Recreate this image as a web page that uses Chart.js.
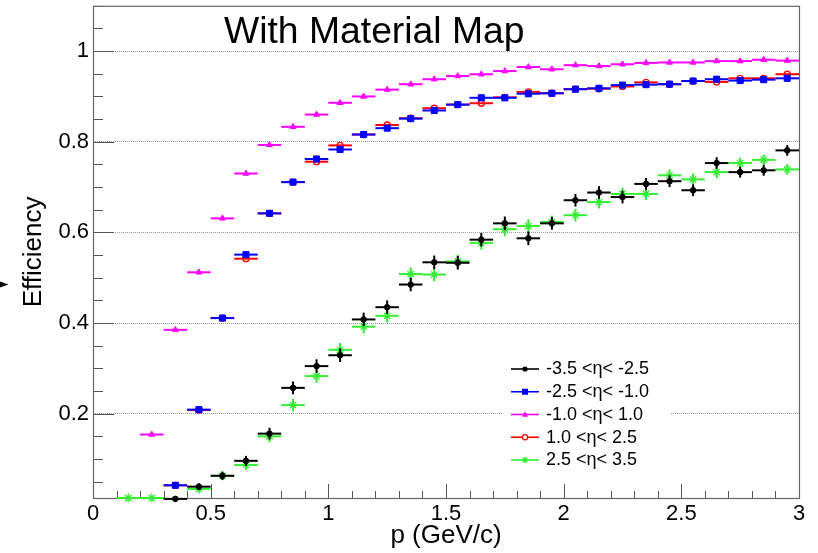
<!DOCTYPE html>
<html><head><meta charset="utf-8">
<script src="https://cdn.jsdelivr.net/npm/chart.js@4.4.1/dist/chart.umd.min.js"></script>
<style>html,body{margin:0;padding:0;background:#fff;}#wrap{width:818px;height:553px;position:relative;}</style>
</head><body><div id="wrap"><canvas id="c" width="818" height="553"></canvas></div>
<script>
// ---- data ----
const pBins = [0.15,0.25,0.35,0.45,0.55,0.65,0.75,0.85,0.95,1.05,1.15,1.25,1.35,1.45,1.55,1.65,1.75,1.85,1.95,2.05,2.15,2.25,2.35,2.45,2.55,2.65,2.75,2.85,2.95];
const seriesLabels = ['-3.5 <\u03b7< -2.5','-2.5 <\u03b7< -1.0','-1.0 <\u03b7< 1.0','1.0 <\u03b7< 2.5','2.5 <\u03b7< 3.5'];
const effEtaM35toM25 = [null,null,0.012,0.039,0.063,0.096,0.156,0.257,0.305,0.329,0.408,0.435,0.485,0.534,0.533,0.584,0.620,0.587,0.620,0.671,0.688,0.678,0.707,0.713,0.693,0.753,0.733,0.737,0.781];
const errEtaM35toM25 = [null,null,0.004,0.007,0.009,0.011,0.013,0.014,0.015,0.015,0.015,0.015,0.015,0.015,0.015,0.015,0.015,0.015,0.014,0.014,0.014,0.014,0.013,0.013,0.013,0.013,0.012,0.012,0.012];
const effEtaM25toM10 = [null,null,0.042,0.209,0.411,0.551,0.642,0.711,0.762,0.783,0.816,0.830,0.851,0.869,0.882,0.897,0.897,0.906,0.907,0.916,0.918,0.925,0.926,0.927,0.934,0.938,0.935,0.937,0.940];
const effEtaM10to10 = [null,0.154,0.385,0.512,0.631,0.730,0.793,0.833,0.860,0.886,0.900,0.915,0.927,0.938,0.945,0.949,0.956,0.965,0.960,0.969,0.967,0.971,0.974,0.975,0.975,0.978,0.978,0.981,0.979];
const effEta10to25 = [null,null,0.042,0.208,0.411,0.542,0.642,0.711,0.756,0.792,0.816,0.837,0.852,0.874,0.882,0.885,0.898,0.910,0.907,0.916,0.917,0.922,0.931,0.927,0.934,0.932,0.940,0.940,0.949];
const effEta25to35 = [0.014,0.014,null,0.034,0.063,0.087,0.150,0.219,0.283,0.341,0.392,0.416,0.508,0.507,0.536,0.577,0.607,0.614,0.623,0.638,0.667,0.685,0.685,0.726,0.717,0.733,0.753,0.760,0.739];
const errEta25to35 = [0.003,0.003,null,0.007,0.009,0.011,0.013,0.014,0.015,0.015,0.015,0.015,0.015,0.015,0.015,0.015,0.015,0.015,0.014,0.014,0.014,0.014,0.013,0.013,0.013,0.013,0.012,0.012,0.012];
const xTickValues = [0,0.5,1,1.5,2,2.5,3];
const yTickValues = [0.2,0.4,0.6,0.8,1.0];
const chartTitle = 'With Material Map';
const xTitle = 'p (GeV/c)';
const yTitle = 'Efficiency';
const binHalfWidth = 0.05;

const FONT = '"Liberation Sans", Arial, Helvetica, sans-serif';

function makeData(vals, errs){
  const out = [];
  pBins.forEach((x,i)=>{ if (vals[i] != null) out.push({x:x, y:vals[i], e: errs ? (errs[i]||0) : 0}); });
  return out;
}

const styles = [
  {color:'#000000', point:'circle', r:2.8, fill:'#000000', bw:1},
  {color:'#0000ff', point:'rect', r:4.3, fill:'#0000ff', bw:1},
  {color:'#ff00ff', point:'triangle', r:3.4, fill:'#ff00ff', bw:1},
  {color:'#ff0000', point:'circle', r:3.0, fill:'rgba(0,0,0,0)', bw:1.3},
  {color:'#33ee33', point:'star', r:4.5, fill:'#33ee33', bw:1.3}
];
const seriesVals = [effEtaM35toM25, effEtaM25toM10, effEtaM10to10, effEta10to25, effEta25to35];
const seriesErrs = [errEtaM35toM25, null, null, null, errEta25to35];

const datasets = seriesVals.map((v,k)=>({
  label: seriesLabels[k],
  data: makeData(v, seriesErrs[k]),
  showLine:false,
  pointStyle: styles[k].point,
  pointRadius: styles[k].r,
  pointHoverRadius: styles[k].r,
  pointBackgroundColor: styles[k].fill,
  pointBorderColor: styles[k].color,
  pointBorderWidth: styles[k].bw,
  borderColor: styles[k].color,
  backgroundColor: styles[k].fill,
  clip: false
}));

const errorBarPlugin = {
  id:'errbars',
  beforeDatasetDraw(chart, args){
    const ds = chart.data.datasets[args.index];
    const k = args.index;
    const xs = chart.scales.x, ys = chart.scales.y;
    const ctx = chart.ctx;
    ctx.save();
    ctx.strokeStyle = styles[k].color;
    ctx.lineWidth = 2;
    ds.data.forEach(p=>{
      const x1 = xs.getPixelForValue(p.x - binHalfWidth), x2 = xs.getPixelForValue(p.x + binHalfWidth);
      const y = ys.getPixelForValue(p.y);
      ctx.beginPath(); ctx.moveTo(x1,y); ctx.lineTo(x2,y); ctx.stroke();
      if (p.e){
        const xc = xs.getPixelForValue(p.x);
        ctx.beginPath(); ctx.moveTo(xc, ys.getPixelForValue(p.y - p.e)); ctx.lineTo(xc, ys.getPixelForValue(p.y + p.e)); ctx.stroke();
      }
    });
    ctx.restore();
  }
};

const framePlugin = {
  id:'frame',
  beforeDatasetsDraw(chart){
    const {ctx, chartArea:a} = chart;
    const xs = chart.scales.x, ys = chart.scales.y;
    ctx.save();
    ctx.strokeStyle = '#555';
    ctx.lineWidth = 1;
    for (let i=0;i<=30;i++){
      const px = Math.round(xs.getPixelForValue(i/10))+0.5;
      const len = (i%5===0) ? 14 : 7;
      ctx.beginPath(); ctx.moveTo(px, a.bottom); ctx.lineTo(px, a.bottom-len); ctx.stroke();
    }
    for (let j=1;j<=22;j++){
      const v = j*0.05;
      const py = Math.round(ys.getPixelForValue(v))+0.5;
      const len = (j%4===0) ? 21 : 10;
      ctx.beginPath(); ctx.moveTo(a.left, py); ctx.lineTo(a.left+len, py); ctx.stroke();
    }
    ctx.strokeStyle = '#666';
    ctx.lineWidth = 1.2;
    ctx.strokeRect(a.left+0.5, a.top+0.5, a.right-a.left, a.bottom-a.top);
    ctx.restore();
  },
  afterDraw(chart){
    const {ctx} = chart;
    ctx.save();
    ctx.fillStyle = '#000';
    ctx.font = '37.3px ' + FONT;
    ctx.textBaseline = 'alphabetic';
    ctx.textAlign = 'left';
    ctx.fillText(chartTitle, 224, 43);
    ctx.beginPath(); ctx.moveTo(0,281.5); ctx.lineTo(8.5,284.5); ctx.lineTo(0,287.5); ctx.closePath(); ctx.fill();
    ctx.fillStyle = '#fff';
    ctx.fillRect(503, 356, 167, 116);
    const rowY0 = 369, rowStep = 22.75;
    seriesLabels.forEach((lab,k)=>{
      const y = rowY0 + k*rowStep;
      const st = styles[k];
      ctx.strokeStyle = st.color; ctx.lineWidth = 1.6;
      ctx.beginPath(); ctx.moveTo(511,y); ctx.lineTo(539,y); ctx.stroke();
      drawMarker(ctx, st, 525, y);
      ctx.fillStyle = '#000';
      ctx.font = '18px ' + FONT;
      ctx.textBaseline = 'middle';
      ctx.textAlign = 'left';
      ctx.fillText(lab, 546, y+0.5);
    });
    ctx.restore();
  }
};

function drawMarker(ctx, st, x, y){
  ctx.save();
  ctx.fillStyle = st.fill; ctx.strokeStyle = st.color; ctx.lineWidth = 1.2;
  if (st.point === 'circle'){
    ctx.beginPath(); ctx.arc(x,y,2.6,0,Math.PI*2);
    if (st.fill.indexOf('rgba')===0){ ctx.fillStyle='#fff'; ctx.fill(); ctx.stroke(); } else { ctx.fill(); }
  } else if (st.point === 'rect'){
    ctx.fillRect(x-3,y-3,6,6);
  } else if (st.point === 'triangle'){
    ctx.beginPath(); ctx.moveTo(x,y-3.2); ctx.lineTo(x+3,y+2.2); ctx.lineTo(x-3,y+2.2); ctx.closePath(); ctx.fill();
  } else if (st.point === 'star'){
    const r=3.2;
    ctx.beginPath();
    ctx.moveTo(x-r,y); ctx.lineTo(x+r,y); ctx.moveTo(x,y-r); ctx.lineTo(x,y+r);
    ctx.moveTo(x-r*0.7,y-r*0.7); ctx.lineTo(x+r*0.7,y+r*0.7); ctx.moveTo(x-r*0.7,y+r*0.7); ctx.lineTo(x+r*0.7,y-r*0.7);
    ctx.stroke();
  }
  ctx.restore();
}

new Chart(document.getElementById('c'), {
  type:'scatter',
  data:{datasets},
  options:{
    responsive:false,
    devicePixelRatio:1,
    animation:false,
    events:[],
    layout:{padding:{left:0, top:5, right:19, bottom:0}},
    plugins:{legend:{display:false}, title:{display:false}, tooltip:{enabled:false}},
    scales:{
      x:{
        type:'linear', min:0, max:3,
        afterBuildTicks(s){ s.ticks = xTickValues.map(v=>({value:v})); },
        afterFit(s){ s.height = 55; s.paddingLeft = 0; s.paddingRight = 0; s.paddingTop = 0; s.paddingBottom = 0; },
        grid:{display:false, drawTicks:false},
        border:{display:false},
        ticks:{color:'#000', font:{family:FONT, size:22}, padding:3, maxRotation:0, autoSkip:false,
          callback:(v)=>String(v)},
        title:{display:true, text:xTitle, color:'#000', font:{family:FONT, size:26}, padding:{top:0,bottom:2}}
      },
      y:{
        type:'linear', min:0.014, max:1.1,
        afterBuildTicks(s){ s.ticks = yTickValues.map(v=>({value:v})); },
        afterFit(s){ s.width = 93; s.paddingTop = 0; s.paddingBottom = 0; s.paddingLeft = 0; s.paddingRight = 0; },
        grid:{color:'#9a9a9a', lineWidth:1, drawTicks:false},
        border:{display:false, dash:[1,1]},
        ticks:{color:'#000', font:{family:FONT, size:22}, padding:4, autoSkip:false,
          callback:(v)=> (Math.abs(v-1)<1e-9 ? '1' : Number(v).toFixed(1))},
        title:{display:true, text:yTitle, color:'#000', font:{family:FONT, size:26}, padding:{top:18,bottom:0}}
      }
    }
  },
  plugins:[errorBarPlugin, framePlugin]
});
</script>
</body></html>
